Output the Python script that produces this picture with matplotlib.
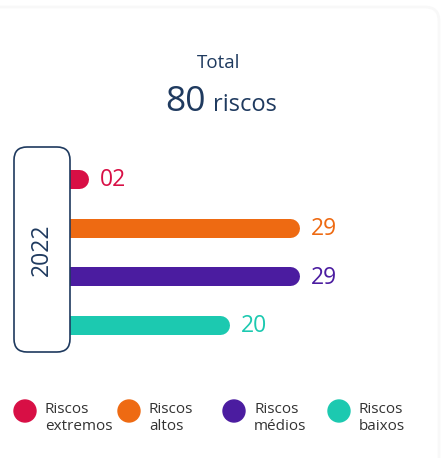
import matplotlib
matplotlib.use("Agg")
import matplotlib.pyplot as plt
from matplotlib.patches import FancyBboxPatch

plt.rcParams['font.family'] = ['Open Sans', 'DejaVu Sans']

# ---- data ----
categories = ["Riscos\nextremos", "Riscos\naltos", "Riscos\nmédios", "Riscos\nbaixos"]
values = [2, 29, 29, 20]
value_labels = ["02", "29", "29", "20"]
colors = ["#d80f45", "#ee6a12", "#4b1ca0", "#1cc9b0"]
year_label = "2022"
total = 80
total_title = "Total"
total_unit = "riscos"

W, H = 441, 458
DPI = 100
fig = plt.figure(figsize=(W / DPI, H / DPI), dpi=DPI)
fig.patch.set_facecolor("white")

navy = "#1f3a5f"

# ---- bar axes (data scale) ----
x0_px, x29_px = 63.5, 290.0
y_top_px, y_bot_px = 179.0, 325.0
step = (y_bot_px - y_top_px) / 3
ax = fig.add_axes([x0_px / W, 1 - (y_bot_px + step / 2) / H,
                   (x29_px - x0_px) / W, (step * 4) / H])
ax.set_xlim(0, 29)
ax.set_ylim(len(values) - 0.5, -0.5)
ax.axis("off")
ax.set_zorder(1)
lw_pt = 19 * 72 / DPI
for i, (v, c, lab) in enumerate(zip(values, colors, value_labels)):
    ax.plot([0, v], [i, i], color=c, lw=lw_pt, solid_capstyle="round", clip_on=False)
    ax.annotate(lab, xy=(v, i), xytext=(21 * 72 / DPI, -1.0), textcoords="offset points",
                ha="left", va="center", fontsize=16.5, color=c)

# ---- overlay axes in pixel coords ----
ov = fig.add_axes([0, 0, 1, 1])
ov.set_xlim(0, W)
ov.set_ylim(H, 0)
ov.axis("off")
ov.set_zorder(2)
ov.patch.set_alpha(0)

# faint card shadow at top
ov.add_patch(FancyBboxPatch((-20, 7), W + 18, H + 40,
                            boxstyle="round,pad=0,rounding_size=14",
                            facecolor="none", edgecolor="#f8f8f8", lw=2.0, zorder=0))

# year box
ov.add_patch(FancyBboxPatch((14, 147), 56, 205,
                            boxstyle="round,pad=0,rounding_size=13",
                            facecolor="white", edgecolor=navy, lw=1.2, zorder=3))
ov.text(42, 250, year_label, rotation=90, ha="center", va="center",
        fontsize=16.5, color=navy, zorder=4)

# titles
ov.text(219, 68, total_title, ha="center", va="baseline", fontsize=13.5, color=navy)
ov.text(206, 111, str(total), ha="right", va="baseline", fontsize=25.5, color=navy)
ov.text(213, 111, total_unit, ha="left", va="baseline", fontsize=17, color=navy)

# legend
leg_x = [25, 129, 234, 339]
leg_y = 411
ov.scatter(leg_x, [leg_y] * len(leg_x), s=(22 * 72 / DPI) ** 2, c=colors, zorder=3)
for x, lab in zip(leg_x, categories):
    ov.text(x + 20, 402, lab, ha="left", va="top", fontsize=11, color="#333333",
            linespacing=1.2)

fig.savefig("out.png", dpi=DPI, facecolor="white")
